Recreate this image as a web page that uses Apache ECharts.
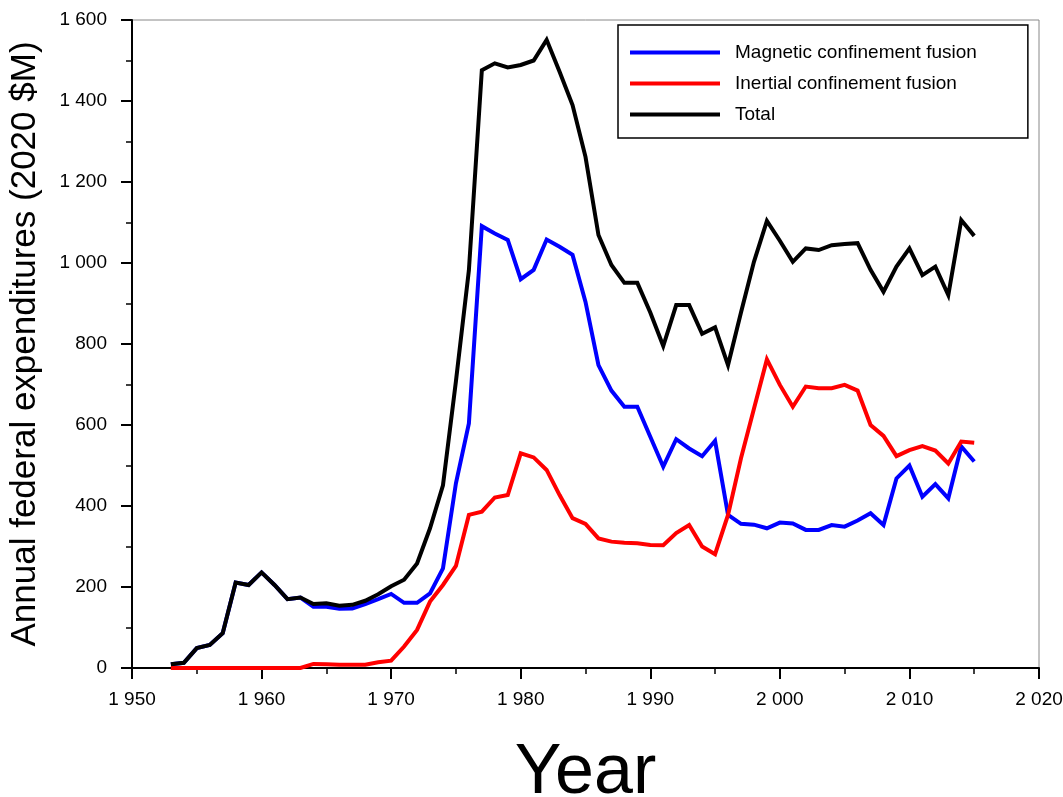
<!DOCTYPE html>
<html>
<head>
<meta charset="utf-8">
<script src="https://cdn.jsdelivr.net/npm/echarts@6/dist/echarts.min.js"></script>
<style>
html,body{margin:0;padding:0;background:#fff;overflow:hidden;}
#chart{width:1063px;height:797px;}
</style>
</head>
<body>
<div id="chart"></div>
<script>
const years = [1953,1954,1955,1956,1957,1958,1959,1960,1961,1962,1963,1964,1965,1966,1967,1968,1969,1970,1971,1972,1973,1974,1975,1976,1977,1978,1979,1980,1981,1982,1983,1984,1985,1986,1987,1988,1989,1990,1991,1992,1993,1994,1995,1996,1997,1998,1999,2000,2001,2002,2003,2004,2005,2006,2007,2008,2009,2010,2011,2012,2013,2014,2015];
const magnetic = [9,13,49,57,86,211,205,236,205,170,174,151,151,146,147,158,170,183,161,161,184,246,456,604,1091,1073,1057,960,983,1058,1040,1020,904,748,685,645,645,571,497,565,542,523,561,378,356,354,345,359,357,341,341,353,349,364,382,353,468,500,423,454,419,547,510];
const inertial = [0,0,0,0,0,0,0,0,0,0,0,10,9,8,8,8,14,18,53,94,164,205,252,378,386,421,427,530,520,489,427,370,356,320,312,309,308,304,303,333,353,300,281,378,518,640,762,699,645,695,691,691,699,685,600,573,523,538,548,537,505,559,556];
const total = [9,13,49,57,86,211,205,236,205,170,174,158,160,154,156,166,182,202,218,258,345,451,708,982,1476,1493,1483,1489,1500,1551,1472,1390,1262,1069,995,951,951,878,795,896,896,825,841,748,878,1003,1104,1055,1003,1036,1032,1044,1047,1049,983,929,991,1036,970,991,921,1106,1067];
const seriesNames = ['Magnetic confinement fusion','Inertial confinement fusion','Total'];
const seriesColors = ['#0000ff','#ff0000','#000000'];

function pairs(vals){ return years.map((y,i)=>[y, vals[i]]); }
function sep(v){ const s = String(Math.round(v)); return s.length>3 ? s.slice(0,s.length-3)+' '+s.slice(s.length-3) : s; }

const font = '"Liberation Sans", Arial, sans-serif';
const chart = echarts.init(document.getElementById('chart'), null, {renderer:'canvas'});
const axisCommon = {
  axisLine:{show:true, lineStyle:{color:'#000', width:2}},
  axisTick:{show:true, inside:false, length:11, lineStyle:{color:'#000', width:2}},
  minorTick:{show:true, splitNumber:2, length:6, lineStyle:{color:'#000', width:1.5}},
  splitLine:{show:false},
  axisLabel:{color:'#000', fontSize:19, fontFamily:font, formatter: sep}
};
chart.setOption({
  animation:false,
  backgroundColor:'#fff',
  grid:{left:132, right:24, top:20, bottom:129, show:true, borderColor:'#888', borderWidth:1, containLabel:false, outerBoundsMode:'none'},
  legend:{
    orient:'vertical', left:618, top:25,
    padding:[18,51,14,12],
    itemWidth:90, itemHeight:4, itemGap:12,
    icon:'rect',
    borderColor:'#000', borderWidth:1.5, backgroundColor:'#fff',
    textStyle:{color:'#000', fontSize:19, fontFamily:font, padding:[0,0,0,10]},
    data: seriesNames
  },
  xAxis:Object.assign({}, axisCommon, {
    type:'value', min:1950, max:2020, interval:10,
    name:'Year', nameLocation:'middle', nameGap:71,
    nameTextStyle:{color:'#000', fontSize:70, fontFamily:font},
    axisLabel:Object.assign({}, axisCommon.axisLabel, {margin:22})
  }),
  yAxis:Object.assign({}, axisCommon, {
    type:'value', min:0, max:1600, interval:200,
    name:'Annual federal expenditures (2020 $M)', nameLocation:'middle', nameGap:89,
    nameTextStyle:{color:'#000', fontSize:35, fontFamily:font},
    axisLabel:Object.assign({}, axisCommon.axisLabel, {margin:25})
  }),
  series:[magnetic, inertial, total].map((vals,i)=>({
    name:seriesNames[i], type:'line', data:pairs(vals), showSymbol:false, symbol:'none',
    lineStyle:{color:seriesColors[i], width:4, join:'miter', miterLimit:4},
    itemStyle:{color:seriesColors[i]}
  }))
});
</script>
</body>
</html>
